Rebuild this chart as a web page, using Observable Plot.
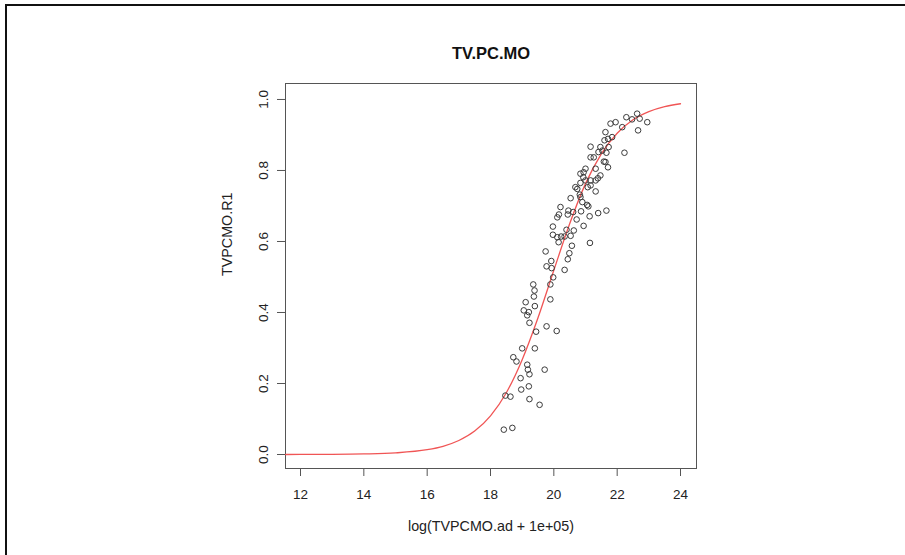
<!DOCTYPE html>
<html><head><meta charset="utf-8">
<script src="https://cdn.jsdelivr.net/npm/d3@7"></script>
<script src="https://cdn.jsdelivr.net/npm/@observablehq/plot@0.6"></script>
<style>
body{margin:0;background:#fff;}
#wrap{position:relative;width:905px;height:555px;overflow:hidden;background:#fff;}
#border{position:absolute;left:5px;top:4px;width:920px;height:570px;border-top:2px solid #111;border-left:2px solid #111;}
#chart{position:absolute;left:0;top:0;}
</style></head><body>
<div id="wrap"><div id="border"></div><div id="chart"></div></div>
<script>
const title = "TV.PC.MO";
const xLabel = "log(TVPCMO.ad + 1e+05)";
const yLabel = "TVPCMO.R1";
const xTicks = [12, 14, 16, 18, 20, 22, 24];
const yTicks = [0, 0.2, 0.4, 0.6, 0.8, 1.0];
const yTickLabels = ["0.0", "0.2", "0.4", "0.6", "0.8", "1.0"];

// observed points
const ptX = [18.42,18.69,19.55,19.23,18.47,18.63,18.97,19.21,18.95,19.23,19.18,19.71,19.16,18.72,18.82,19.00,19.40,19.44,19.77,20.09,19.23,19.16,
  19.11,19.05,19.21,19.40,19.37,19.39,19.35,19.89,19.89,19.98,20.34,19.93,19.77,19.92,19.74,20.44,20.49,20.57,21.14,20.15,20.11,20.23,20.34,20.53,19.97,20.63,20.40,19.97,20.94,20.72,21.13,20.16,20.44,20.61,20.86,21.40,21.66,
  20.21,21.05,20.90,20.53,20.82,20.68,21.07,21.32,20.84,21.16,20.93,20.84,21.00,21.39,21.47,21.32,21.71,21.58,21.16,21.26,21.66,21.16,21.47,22.23,21.60,21.71,21.63,21.84,21.79,21.95,22.16,22.29,22.47,22.63,22.71,22.66,22.95,
  21.41,21.53,21.73,21.63,20.94,21.00,21.32,21.16,20.74,20.84,21.09,20.46,20.11];
const ptY = [0.070,0.075,0.140,0.156,0.166,0.163,0.183,0.192,0.215,0.226,0.239,0.239,0.253,0.274,0.262,0.299,0.299,0.346,0.361,0.348,0.371,0.392,
  0.429,0.406,0.401,0.418,0.445,0.462,0.479,0.437,0.479,0.499,0.520,0.525,0.530,0.545,0.572,0.550,0.567,0.588,0.596,0.598,0.612,0.614,0.614,0.616,0.619,0.631,0.633,0.642,0.644,0.662,0.671,0.676,0.676,0.683,0.685,0.680,0.687,
  0.697,0.703,0.711,0.722,0.732,0.753,0.753,0.741,0.765,0.772,0.781,0.791,0.805,0.778,0.786,0.805,0.809,0.825,0.837,0.837,0.850,0.867,0.866,0.850,0.885,0.889,0.908,0.894,0.932,0.936,0.922,0.950,0.944,0.960,0.946,0.913,0.936,
  0.852,0.856,0.866,0.824,0.795,0.772,0.772,0.758,0.748,0.725,0.699,0.687,0.668];

// fitted curve
const curveX = [11.53,12,13,14,15,16,16.5,17,17.5,18,18.5,19,19.5,20,20.5,21,21.5,22,22.5,23,23.5,24];
const curveY = [0.0001,0.0002,0.0005,0.0016,0.0046,0.0136,0.0232,0.0395,0.066,0.109,0.174,0.267,0.385,0.519,0.650,0.763,0.847,0.905,0.943,0.966,0.980,0.988];

const points = ptX.map((x, i) => ({x, y: ptY[i]}));
const curve = curveX.map((x, i) => ({x, y: curveY[i]}));

const chart = Plot.plot({
  width: 905, height: 555,
  marginLeft: 285, marginRight: 209, marginTop: 83, marginBottom: 87,
  x: {domain: [11.526, 24.505]},
  y: {domain: [-0.0394, 1.045]},
  style: {fontFamily: "'Liberation Sans', Arial, sans-serif", fontSize: "13.5px", color: "#222", background: "transparent"},
  marks: [
    Plot.axisX({ticks: xTicks, tickSize: 8, tickPadding: 13, label: null, stroke: "#555"}),
    Plot.axisY({ticks: yTicks, tickSize: 8, tickPadding: 10, tickRotate: -90, tickFormat: (d) => yTickLabels[yTicks.indexOf(d)], label: null, stroke: "#555"}),
    Plot.frame({stroke: "#555"}),
    Plot.line(curve, {x: "x", y: "y", stroke: "#f05555", strokeWidth: 1.3, curve: "monotone-x"}),
    Plot.dot(points, {x: "x", y: "y", r: 2.8, stroke: "#3a3a3a", strokeWidth: 1, fill: "none"}),
    Plot.text([title], {frameAnchor: "top", dy: -36, fontWeight: "bold", fontSize: 16.5, fill: "#111"}),
    Plot.text([xLabel], {frameAnchor: "bottom", dy: 62, fontSize: 14.3, fill: "#222"}),
    Plot.text([yLabel], {frameAnchor: "left", dx: -58, rotate: -90, fontSize: 14.3, fill: "#222"})
  ]
});
document.getElementById("chart").appendChild(chart);
</script>
</body></html>
